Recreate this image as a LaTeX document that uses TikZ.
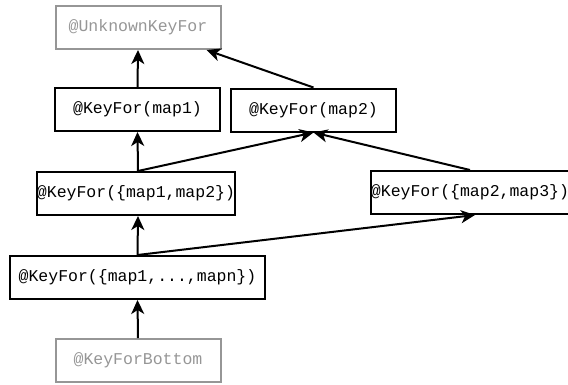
\documentclass[tikz,border=0pt]{standalone}
\usepackage{fontspec}
\setmonofont{Liberation Mono}
\usetikzlibrary{arrows.meta,%
                positioning}
\definecolor{faded}{RGB}{150,150,150}

\begin{document}
\begin{tikzpicture}[x=1pt,y=-1pt,line width=2pt]
\tikzstyle{keybox}=[draw,shape=rectangle,minimum height=43pt,inner sep=0pt,font=\ttfamily\fontsize{16.5}{19}\selectfont]
\tikzstyle{fadedbox}=[keybox,draw=faded,text=faded]
\tikzstyle{edge} = [draw,line width=2pt,-{Stealth[length=14pt,width=13pt,inset=4pt]}]

\useasboundingbox (0,0) rectangle (568,384);

\draw (138,27.5) node[fadedbox,minimum width=165pt] (unknown) {@UnknownKeyFor};
\draw (137.5,109.5) node[keybox,minimum width=165pt] (map1) {@KeyFor(map1)};
\draw (313.5,110) node[keybox,minimum width=165pt] (map2) {@KeyFor(map2)};
\draw (136,193.5) node[keybox,minimum width=198pt] (maponetwo) {@KeyFor(\{map1,map2\})};
\draw (470,192.5) node[keybox,minimum width=195pt] (maptwothree) {@KeyFor(\{map2,map3\})};
\draw (137.5,277.5) node[keybox,minimum width=255pt] (mapall) {@KeyFor(\{map1,...,mapn\})};
\draw (138,360.5) node[fadedbox,minimum width=165pt] (bottom) {@KeyForBottom};

\path[edge] (map1.north) -- (unknown.south);
\path[edge] (map2.north) -- ([xshift=-15pt]unknown.south east);
\path[edge] ([xshift=2pt]maponetwo.north) -- (map1.south);
\path[edge] ([xshift=2pt]maponetwo.north) -- (map2.south);
\path[edge] (maptwothree.north) -- (map2.south);
\path[edge] (mapall.north) -- ([xshift=2pt]maponetwo.south);
\path[edge] (mapall.north) -- ([xshift=5pt]maptwothree.south);
\path[edge] (bottom.north) -- (mapall.south);
\end{tikzpicture}
\end{document}
